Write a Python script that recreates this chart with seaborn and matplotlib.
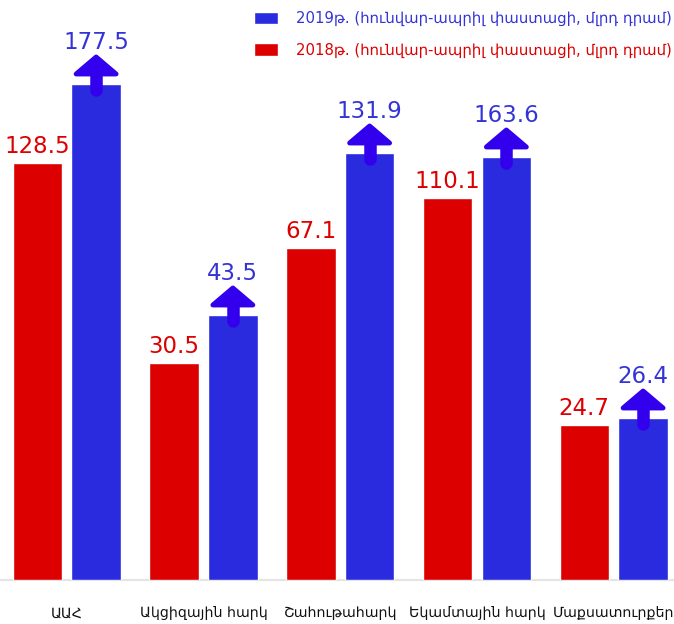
import matplotlib
matplotlib.use('Agg')
import matplotlib.pyplot as plt
from matplotlib.patches import Polygon, Patch
import seaborn as sns
import pandas as pd

# ---- data ----
categories = ['ԱԱՀ', 'Ակցիզային հարկ', 'Շահութահարկ', 'Եկամտային հարկ', 'Մաքսատուրքեր']
years = ['2018թ.', '2019թ.']
values_2018 = [128.5, 30.5, 67.1, 110.1, 24.7]
values_2019 = [177.5, 43.5, 131.9, 163.6, 26.4]
# bar heights as drawn in the infographic (not to scale with the printed values)
heights_2018 = [417, 217, 332, 382, 155]
heights_2019 = [496, 265, 427, 423, 162]
legend_labels = ['2019թ. (հունվար-ապրիլ փաստացի, մլրդ դրամ)',
                 '2018թ. (հունվար-ապրիլ փաստացի, մլրդ դրամ)']

red = '#dc0000'
blue = '#2a2ade'
arrow_col = '#3300ee'
blue_txt = '#3434d6'

df = pd.DataFrame({
    'category': categories * 2,
    'year': [years[0]] * 5 + [years[1]] * 5,
    'height': heights_2018 + heights_2019,
})

sns.set_style('white')
plt.rcParams['font.family'] = ['DejaVu Sans']

fig = plt.figure(figsize=(6.74, 6.24), dpi=100)
ax = fig.add_axes([0, 44 / 624, 1, 580 / 624])

sns.barplot(data=df, x='category', y='height', hue='year', hue_order=years,
            palette=[red, blue], saturation=1, width=0.86, gap=0.16,
            legend=False, ax=ax)

ax.set_xlim(-0.488, 4.441)
ax.set_ylim(0, 580)
px = (4.441 + 0.488) / 674  # x data units per pixel

ax.axhline(0, color='#e4e4e4', lw=1.5, clip_on=False, zorder=0)

# labels and arrows
for p, v in zip(ax.containers[0], values_2018):
    cx = p.get_x() + p.get_width() / 2
    t = p.get_height()
    ax.text(cx, t + 10, f'{v}', ha='center', va='baseline', fontsize=16.5, color=red)

for p, v in zip(ax.containers[1], values_2019):
    cx = p.get_x() + p.get_width() / 2
    t = p.get_height()
    ax.plot([cx, cx], [t - 6, t + 12], color=arrow_col, lw=9,
            solid_capstyle='round', zorder=4)
    head = Polygon([(cx - 20 * px, t + 10), (cx + 20 * px, t + 10), (cx, t + 27)],
                   closed=True, facecolor=arrow_col, edgecolor=arrow_col,
                   lw=3.5, joinstyle='round', zorder=5)
    ax.add_patch(head)
    ax.text(cx, t + 35, f'{v}', ha='center', va='baseline', fontsize=16.5, color=blue_txt)

ax.set_xlabel('')
ax.set_ylabel('')
ax.set_yticks([])
ax.tick_params(axis='x', length=0, pad=19, labelsize=10.2, labelcolor='#111111')
for s in ax.spines.values():
    s.set_visible(False)

handles = [Patch(facecolor=blue), Patch(facecolor=red)]
fig.legend(handles, legend_labels, loc='upper right',
           bbox_to_anchor=(1.0 + 6 / 674, 1.0 - 3 / 624),
           frameon=False, fontsize=10.7, labelcolor=[blue_txt, red],
           handlelength=1.6, handleheight=0.95, handletextpad=1.25,
           labelspacing=1.1, borderpad=0.55, borderaxespad=0)

fig.savefig('out.png', dpi=100)
